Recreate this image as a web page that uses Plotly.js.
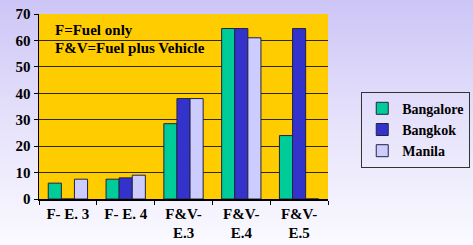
<!DOCTYPE html>
<html><head><meta charset="utf-8">
<script src="https://cdn.plot.ly/plotly-3.0.1.min.js"></script>
<style>
html,body{margin:0;padding:0;}
body{width:473px;height:245px;background:linear-gradient(to bottom,#cdc5f6 0%,#e6e2fb 50%,#fafaff 100%);}
#chart{width:473px;height:245px;}
</style></head>
<body><div id="chart"></div>
<script>
const categories = ["F- E. 3", "F- E. 4", "F&V-<br>E.3", "F&V-<br>E.4", "F&V-<br>E.5"];
const bangalore = [6, 7.5, 28.5, 64.5, 24];
const bangkok = [0, 8, 38, 64.5, 64.5];
const manila = [7.5, 9, 38, 61, 0];
const seriesNames = ["Bangalore", "Bangkok", "Manila"];
const seriesColors = ["#00cc99", "#3333cc", "#ccccff"];
const yTicks = [0, 10, 20, 30, 40, 50, 60, 70];

const FF = "Liberation Serif";
const bf = (s) => ({family: FF, size: s, color: "#000", weight: "bold"});
const data = [bangalore, bangkok, manila].map((vals, i) => ({
  type: "bar", x: categories, y: vals, name: seriesNames[i],
  marker: {color: seriesColors[i], line: {color: "#222244", width: 1}}
}));
const layout = {
  width: 473, height: 245,
  margin: {l: 39, r: 145, t: 14, b: 46, autoexpand: false},
  paper_bgcolor: "rgba(0,0,0,0)", plot_bgcolor: "#ffcc00",
  barmode: "group", bargap: 0.32, bargroupgap: 0,
  font: bf(13),
  xaxis: {type: "category", showline: true, linecolor: "#000", linewidth: 1.5,
    ticks: "outside", tickson: "boundaries", ticklen: 4, tickcolor: "#000",
    tickfont: bf(15)},
  yaxis: {range: [0, 70], tickvals: yTicks, showline: true, linecolor: "#000", linewidth: 1.5,
    ticks: "outside", ticklen: 4, tickcolor: "#000",
    gridcolor: "#2a2a10", gridwidth: 1, zeroline: false,
    tickfont: bf(15)},
  showlegend: true,
  legend: {x: 1.115, xanchor: "left", y: 0.58, yanchor: "top",
    bgcolor: "rgba(0,0,0,0)", bordercolor: "#333", borderwidth: 1,
    font: bf(14), tracegroupgap: 0, itemwidth: 30},
  annotations: [
    {text: "F=Fuel only", xref: "paper", yref: "paper", x: 0.05, y: 0.914, xanchor: "left", yanchor: "middle", showarrow: false, font: bf(15)},
    {text: "F&V=Fuel plus Vehicle", xref: "paper", yref: "paper", x: 0.05, y: 0.816, xanchor: "left", yanchor: "middle", showarrow: false, font: bf(15)}
  ]
};
Plotly.newPlot("chart", data, layout, {displayModeBar: false, staticPlot: true});
</script></body></html>
